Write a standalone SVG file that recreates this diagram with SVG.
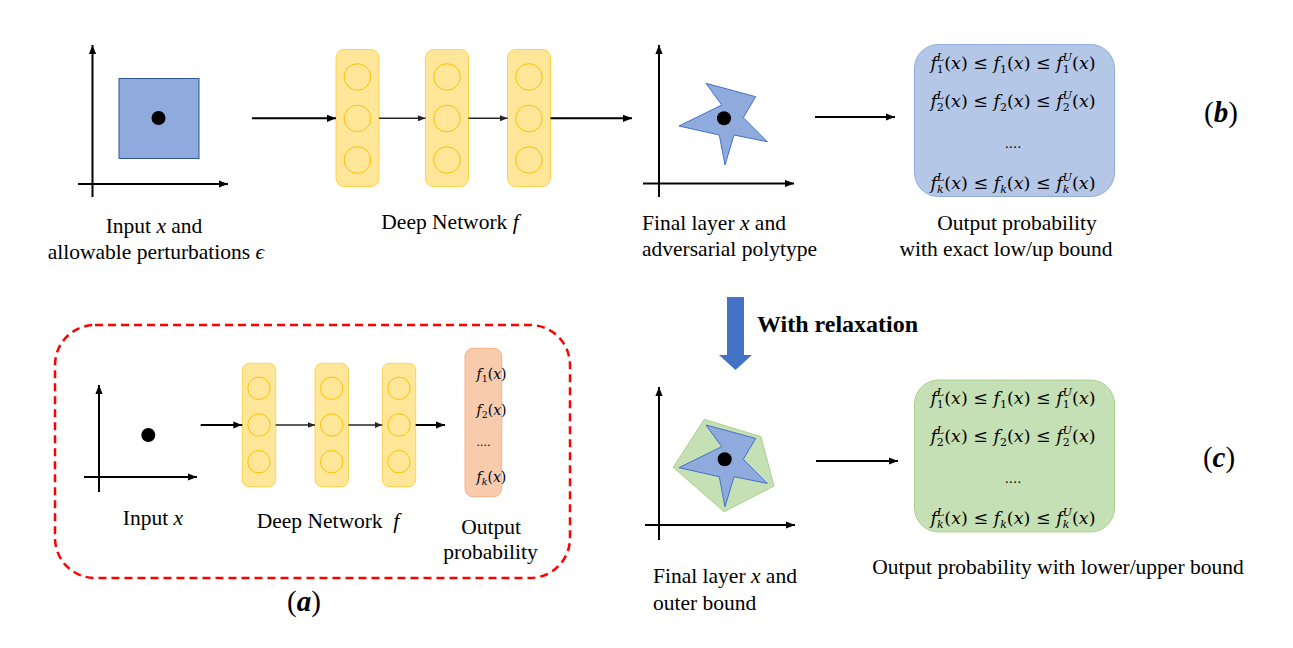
<svg xmlns="http://www.w3.org/2000/svg" width="1293" height="648" viewBox="0 0 1293 648">
<style>
.lbl{font-family:'Liberation Serif','DejaVu Serif','Noto Serif',serif;font-size:21.5px;fill:#000}
.it{font-style:italic}
.m{font-family:'DejaVu Serif',serif;font-size:17.5px;fill:#000;text-anchor:middle}
.ms{font-family:'DejaVu Serif',serif;font-size:14px;fill:#000}
.dots{font-size:13px}
.dotsA{font-size:11px}
.rel{font-size:24px;font-weight:bold}
.sb{font-size:11px}
.sbs{font-size:9.5px}
.ax{stroke:#000;stroke-width:2;fill:none}
.ar{stroke:#000;stroke-width:2;fill:none}
.ar2{stroke:#262626;stroke-width:1.5;fill:none}
.layer{fill:#FFE699;stroke:#FFD24D;stroke-width:1}
.neu{fill:none;stroke:#FFC000;stroke-width:1}
.dot{fill:#000}
.tag{font-family:'Liberation Serif','DejaVu Serif',serif;font-size:29px;fill:#000}
</style>
<defs>
<marker id="ah" viewBox="0 0 10 8" refX="10" refY="4" markerWidth="4.5" markerHeight="3.6" orient="auto" markerUnits="strokeWidth">
<path d="M0,0 L10,4 L0,8 z" fill="#000"/>
</marker>
<marker id="ah2" viewBox="0 0 10 8" refX="10" refY="4" markerWidth="5" markerHeight="4" orient="auto" markerUnits="strokeWidth">
<path d="M0,0 L10,4 L0,8 z" fill="#262626"/>
</marker>
<g id="layerTop">
<rect x="0" y="0" width="43" height="137" rx="8" class="layer"/>
<circle cx="21.5" cy="27.5" r="13.3" class="neu"/>
<circle cx="21.5" cy="69" r="13.3" class="neu"/>
<circle cx="21.5" cy="110.5" r="13.3" class="neu"/>
</g>
<g id="layerA">
<rect x="0" y="0" width="33.4" height="123.4" rx="7" class="layer"/>
<circle cx="16.7" cy="25" r="11.2" class="neu"/>
<circle cx="16.7" cy="61.7" r="11.2" class="neu"/>
<circle cx="16.7" cy="98.4" r="11.2" class="neu"/>
</g>
<polygon id="star" points="706,83.3 755.7,96.7 743.3,117.7 767.3,141.7 734,135 725,165 719.3,135 679,126 721.7,105" fill="#8FAADC" stroke="#4472C4" stroke-width="1"/>
</defs>

<g id="inputPlotB">
<line class="ax" x1="92.5" y1="197" x2="92.5" y2="45" marker-end="url(#ah)"/>
<line class="ax" x1="78" y1="184" x2="228" y2="184" marker-end="url(#ah)"/>
<rect x="119" y="78.5" width="80" height="80" fill="#8FAADC" stroke="#2F5597" stroke-width="1"/>
<circle class="dot" cx="158.5" cy="118" r="7"/>
<text class="lbl" x="154" y="233" text-anchor="middle">Input <tspan class="it">x</tspan> and</text>
<text class="lbl" x="156" y="259" text-anchor="middle">allowable perturbations <tspan class="it">ϵ</tspan></text>
</g>

<g id="networkB">
<use href="#layerTop" x="336" y="49.5"/>
<use href="#layerTop" x="425.5" y="49.5"/>
<use href="#layerTop" x="507.5" y="49.5"/>
<text class="lbl" x="450" y="229" text-anchor="middle">Deep Network <tspan class="it">f</tspan></text>
</g>

<g id="finalLayerB">
<line class="ax" x1="659" y1="197" x2="659" y2="45" marker-end="url(#ah)"/>
<line class="ax" x1="643" y1="183.5" x2="794" y2="183.5" marker-end="url(#ah)"/>
<use href="#star"/>
<circle class="dot" cx="724" cy="118.3" r="7"/>
<text class="lbl" x="642" y="230">Final layer <tspan class="it">x</tspan> and</text>
<text class="lbl" x="642" y="256">adversarial polytype</text>
</g>

<g id="outputB">
<rect x="914.5" y="44.5" width="200" height="152" rx="24" fill="#B4C7E7" stroke="#8FAADC" stroke-width="1"/>
<text class="m" x="1013" y="69"><tspan class="it">f</tspan><tspan class="sb" dy="4">1</tspan><tspan class="sb it" dx="-7" dy="-12">L</tspan><tspan dy="8">(</tspan><tspan class="it">x</tspan>) ≤ <tspan class="it">f</tspan><tspan class="sb" dy="4">1</tspan><tspan dy="-4">(</tspan><tspan class="it">x</tspan>) ≤ <tspan class="it">f</tspan><tspan class="sb" dy="4">1</tspan><tspan class="sb it" dx="-7" dy="-12">U</tspan><tspan dy="8">(</tspan><tspan class="it">x</tspan>)</text>
<text class="m" x="1013" y="107"><tspan class="it">f</tspan><tspan class="sb" dy="4">2</tspan><tspan class="sb it" dx="-7" dy="-12">L</tspan><tspan dy="8">(</tspan><tspan class="it">x</tspan>) ≤ <tspan class="it">f</tspan><tspan class="sb" dy="4">2</tspan><tspan dy="-4">(</tspan><tspan class="it">x</tspan>) ≤ <tspan class="it">f</tspan><tspan class="sb" dy="4">2</tspan><tspan class="sb it" dx="-7" dy="-12">U</tspan><tspan dy="8">(</tspan><tspan class="it">x</tspan>)</text>
<text class="m dots" x="1013" y="148">....</text>
<text class="m" x="1013" y="189"><tspan class="it">f</tspan><tspan class="sb it" dy="4">k</tspan><tspan class="sb it" dx="-6.6" dy="-12">L</tspan><tspan dy="8">(</tspan><tspan class="it">x</tspan>) ≤ <tspan class="it">f</tspan><tspan class="sb it" dy="4">k</tspan><tspan dy="-4">(</tspan><tspan class="it">x</tspan>) ≤ <tspan class="it">f</tspan><tspan class="sb it" dy="4">k</tspan><tspan class="sb it" dx="-6.6" dy="-12">U</tspan><tspan dy="8">(</tspan><tspan class="it">x</tspan>)</text>
<text class="lbl" x="1017" y="230" text-anchor="middle">Output probability</text>
<text class="lbl" x="1006" y="256" text-anchor="middle">with exact low/up bound</text>
</g>

<g id="labelB">
<text class="tag" x="1221" y="122" text-anchor="middle">(<tspan font-weight="bold" font-style="italic">b</tspan>)</text>
</g>

<g id="relaxation">
<polygon points="727,297 744,297 744,355 752,355 735.5,370 719,355 727,355" fill="#4472C4"/>
<text class="lbl rel" x="757" y="332">With relaxation</text>
</g>

<g id="finalLayerC">
<line class="ax" x1="659" y1="540" x2="659" y2="387" marker-end="url(#ah)"/>
<line class="ax" x1="645" y1="525" x2="795" y2="525" marker-end="url(#ah)"/>
<polygon points="704.3,419.3 761,436.7 774,486 724,511.7 673.3,467.3" fill="#C5E0B4" stroke="#A9D18E" stroke-width="1"/>
<use href="#star" transform="translate(0,341.7)"/>
<circle class="dot" cx="724.7" cy="459.3" r="7"/>
<text class="lbl" x="653" y="583">Final layer <tspan class="it">x</tspan> and</text>
<text class="lbl" x="653" y="610">outer bound</text>
</g>

<g id="outputC">
<rect x="914.5" y="380" width="200" height="152" rx="24" fill="#C5E0B4" stroke="#A9D18E" stroke-width="1"/>
<text class="m" x="1013" y="404"><tspan class="it">f</tspan><tspan class="sb" dy="4">1</tspan><tspan class="sb it" dx="-7" dy="-12">L</tspan><tspan dy="8">(</tspan><tspan class="it">x</tspan>) ≤ <tspan class="it">f</tspan><tspan class="sb" dy="4">1</tspan><tspan dy="-4">(</tspan><tspan class="it">x</tspan>) ≤ <tspan class="it">f</tspan><tspan class="sb" dy="4">1</tspan><tspan class="sb it" dx="-7" dy="-12">U</tspan><tspan dy="8">(</tspan><tspan class="it">x</tspan>)</text>
<text class="m" x="1013" y="442"><tspan class="it">f</tspan><tspan class="sb" dy="4">2</tspan><tspan class="sb it" dx="-7" dy="-12">L</tspan><tspan dy="8">(</tspan><tspan class="it">x</tspan>) ≤ <tspan class="it">f</tspan><tspan class="sb" dy="4">2</tspan><tspan dy="-4">(</tspan><tspan class="it">x</tspan>) ≤ <tspan class="it">f</tspan><tspan class="sb" dy="4">2</tspan><tspan class="sb it" dx="-7" dy="-12">U</tspan><tspan dy="8">(</tspan><tspan class="it">x</tspan>)</text>
<text class="m dots" x="1013" y="483">....</text>
<text class="m" x="1013" y="524"><tspan class="it">f</tspan><tspan class="sb it" dy="4">k</tspan><tspan class="sb it" dx="-6.6" dy="-12">L</tspan><tspan dy="8">(</tspan><tspan class="it">x</tspan>) ≤ <tspan class="it">f</tspan><tspan class="sb it" dy="4">k</tspan><tspan dy="-4">(</tspan><tspan class="it">x</tspan>) ≤ <tspan class="it">f</tspan><tspan class="sb it" dy="4">k</tspan><tspan class="sb it" dx="-6.6" dy="-12">U</tspan><tspan dy="8">(</tspan><tspan class="it">x</tspan>)</text>
<text class="lbl" x="1058" y="574" text-anchor="middle">Output probability with lower/upper bound</text>
</g>

<g id="labelC">
<text class="tag" x="1219" y="467" text-anchor="middle">(<tspan font-weight="bold" font-style="italic">c</tspan>)</text>
</g>

<g id="panelA">
<rect x="55" y="325" width="515" height="253" rx="40" fill="none" stroke="#FF0000" stroke-width="2.5" stroke-dasharray="8,5"/>
</g>

<g id="inputPlotA">
<line class="ax" x1="99" y1="492" x2="99" y2="385" marker-end="url(#ah)"/>
<line class="ax" x1="84" y1="477" x2="197" y2="477" marker-end="url(#ah)"/>
<circle class="dot" cx="148.3" cy="435" r="7"/>
<text class="lbl" x="153" y="525" text-anchor="middle">Input <tspan class="it">x</tspan></text>
</g>

<g id="networkA">
<use href="#layerA" x="242.3" y="363.3"/>
<use href="#layerA" x="315" y="363.3"/>
<use href="#layerA" x="382.3" y="363.3"/>
<text class="lbl" x="328" y="528" text-anchor="middle" xml:space="preserve">Deep Network  <tspan class="it">f</tspan></text>
</g>

<g id="outputA">
<rect x="465" y="348.3" width="36.7" height="148.4" rx="8" fill="#F8CBAD" stroke="#F4B183" stroke-width="1"/>
<text class="ms" x="476.5" y="378.5"><tspan class="it">f</tspan><tspan class="sbs" dy="3">1</tspan><tspan dy="-3">(</tspan><tspan class="it">x</tspan>)</text>
<text class="ms" x="476.5" y="415"><tspan class="it">f</tspan><tspan class="sbs" dy="3">2</tspan><tspan dy="-3">(</tspan><tspan class="it">x</tspan>)</text>
<text class="ms dotsA" x="476.5" y="446">....</text>
<text class="ms" x="476.5" y="481.5"><tspan class="it">f</tspan><tspan class="sbs it" dy="3">k</tspan><tspan dy="-3">(</tspan><tspan class="it">x</tspan>)</text>
<text class="lbl" x="491" y="534" text-anchor="middle">Output</text>
<text class="lbl" x="490.5" y="559" text-anchor="middle">probability</text>
</g>

<g id="labelA">
<text class="tag" x="304" y="611" text-anchor="middle">(<tspan font-weight="bold" font-style="italic">a</tspan>)</text>
</g>

<g id="connectors">
<line class="ar" x1="252" y1="118.3" x2="336" y2="118.3" marker-end="url(#ah)"/>
<line class="ar2" x1="379" y1="118.3" x2="425.5" y2="118.3" marker-end="url(#ah2)"/>
<line class="ar2" x1="468.5" y1="118.3" x2="507.5" y2="118.3" marker-end="url(#ah2)"/>
<line class="ar" x1="550.5" y1="118.3" x2="632" y2="118.3" marker-end="url(#ah)"/>
<line class="ar" x1="815" y1="117" x2="895" y2="117" marker-end="url(#ah)"/>
<line class="ar" x1="816" y1="461" x2="898" y2="461" marker-end="url(#ah)"/>
<line class="ar" x1="200.7" y1="425" x2="242.3" y2="425" marker-end="url(#ah)"/>
<line class="ar2" x1="275.7" y1="425" x2="315" y2="425" marker-end="url(#ah2)"/>
<line class="ar2" x1="348.4" y1="425" x2="382.3" y2="425" marker-end="url(#ah2)"/>
<line class="ar" x1="415.7" y1="425" x2="445" y2="425" marker-end="url(#ah)"/>
</g>
</svg>
